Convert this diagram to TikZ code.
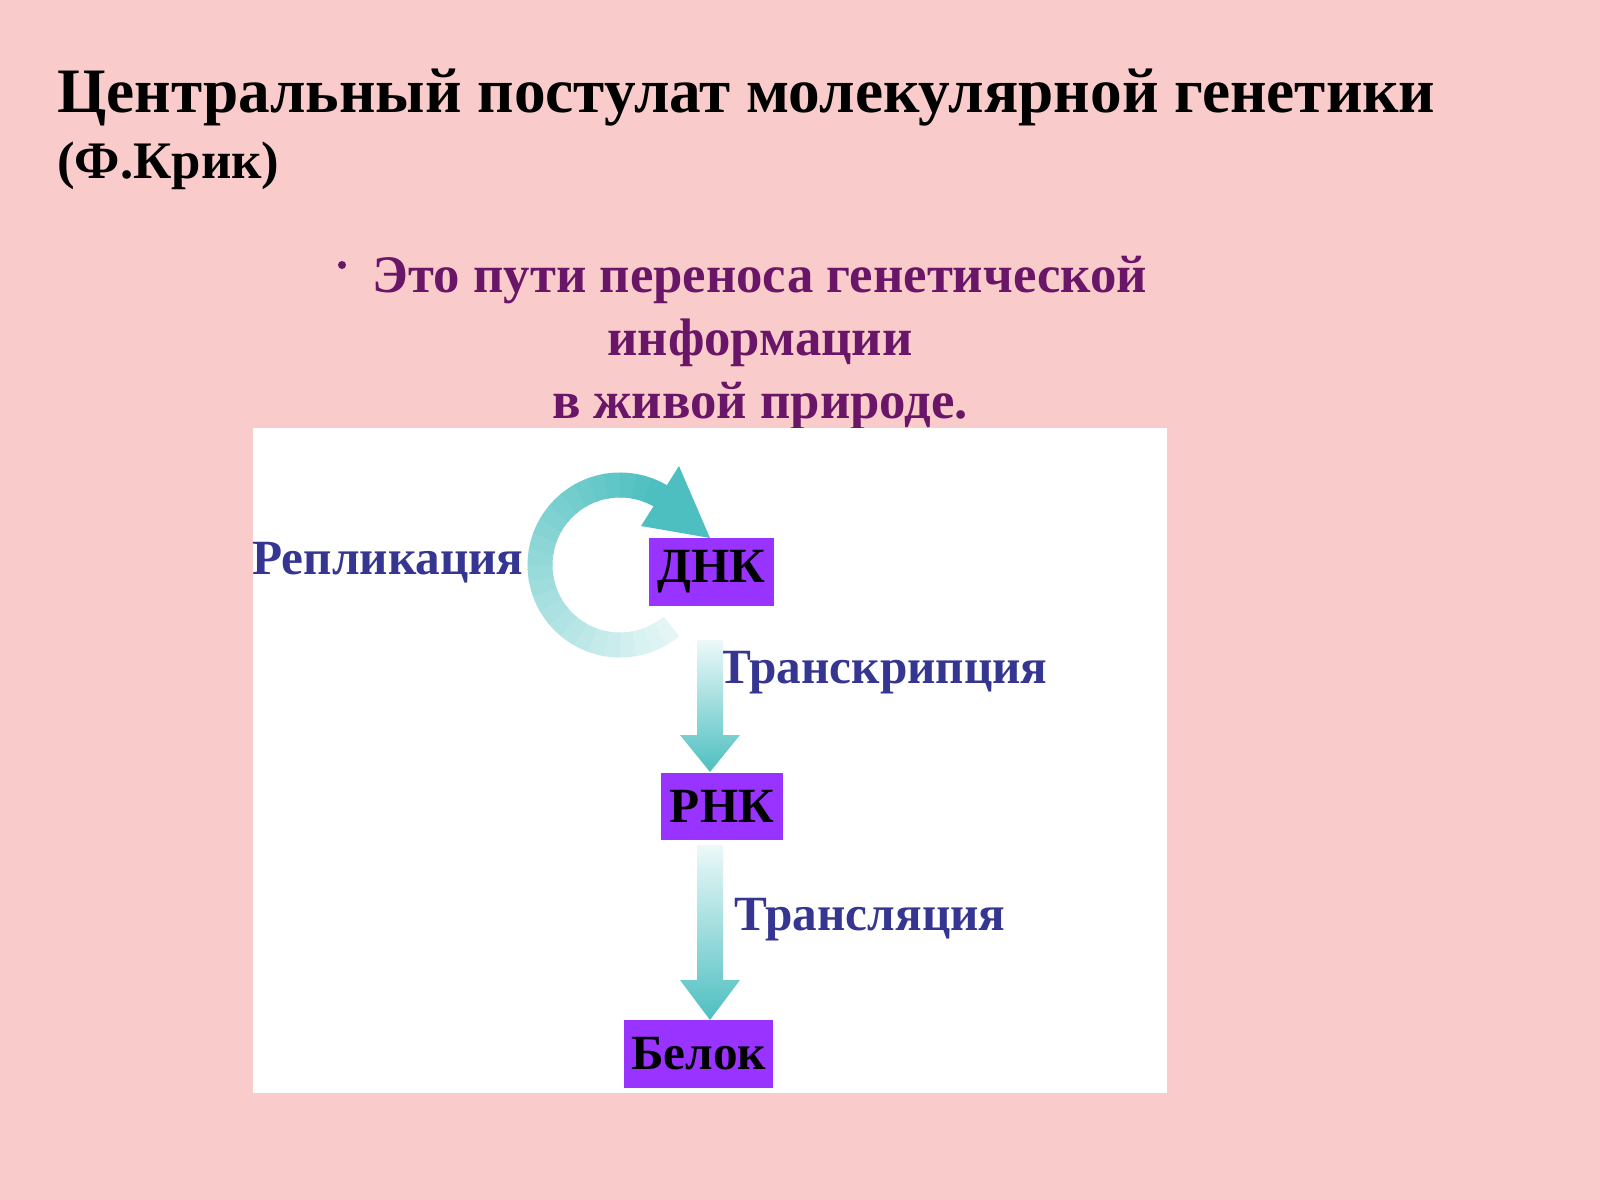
\documentclass[tikz,border=0pt]{standalone}
\usepackage{fontspec}
\setmainfont{Liberation Serif}
\usetikzlibrary{positioning}
\definecolor{bgpink}{HTML}{F9CCCB}
\definecolor{titlepurple}{HTML}{6A1668}
\definecolor{labelblue}{HTML}{353592}
\definecolor{boxviolet}{HTML}{9933FF}
\definecolor{arrowteal}{HTML}{4DBFC0}
\tikzset{
	molecule/.style={fill=boxviolet, font=\fontsize{14pt}{16pt}\selectfont\bfseries, text=black, inner sep=0pt, minimum height=0.67cm},
	process/.style={font=\fontsize{14pt}{16pt}\selectfont\bfseries, text=labelblue}
}
\begin{document}
\begin{tikzpicture}[x=0.01cm, y=-0.01cm]
	\fill[bgpink] (0,0) rectangle (1600,1200);
	\useasboundingbox (0,0) rectangle (1600,1200);
	% Titel
	\node[anchor=base west, font=\fontsize{18pt}{20pt}\selectfont\bfseries] (title) at (45,112) {Центральный постулат молекулярной генетики};
	\node[anchor=base west, font=\fontsize{15pt}{17pt}\selectfont\bfseries] (crick) at (45,178) {(Ф.Крик)};
	\node[anchor=base, font=\fontsize{15pt}{17pt}\selectfont\bfseries, text=titlepurple] (line1) at (760,292) {Это пути переноса генетической};
	\node[anchor=base, font=\fontsize{15pt}{17pt}\selectfont\bfseries, text=titlepurple] (line2) at (760,355) {информации};
	\node[anchor=base, font=\fontsize{15pt}{17pt}\selectfont\bfseries, text=titlepurple] (line3) at (760,418) {в живой природе.};
	\fill[titlepurple] (342,265) circle (4);
	% Schema
	\fill[white] (253,428) rectangle (1167,1093);
	\node[molecule, minimum width=1.25cm] (dnk) at (711.5,572) {ДНК};
	\node[molecule, minimum width=1.22cm] (rnk) at (722,806.5) {РНК};
	\node[molecule, minimum width=1.49cm] (belok) at (698.5,1054) {Белок};
	\node[process] (repl) at (388,563) {Репликация};
	\node[process] (transkr) at (883,673) {Транскрипция};
	\node[process] (transl) at (870,920) {Трансляция};
	% Pfeile
	\foreach \a in {50,60,...,290}
		{\pgfmathsetmacro{\mix}{15+(\a-50)/240*85}
		\draw[line width=0.25cm, arrowteal!\mix!white] ({620+80*cos(\a)},{565+80*sin(\a)}) arc [start angle=-\a, end angle=-\a-11, radius=0.8cm];}
	\fill[arrowteal] (679,466) -- (710,538) -- (641,526) -- cycle;
	\shade[top color=arrowteal!10, bottom color=arrowteal] (697,640) -- (723,640) -- (723,735) -- (740,735) -- (710,772) -- (680,735) -- (697,735) -- cycle;
	\shade[top color=arrowteal!10, bottom color=arrowteal] (697,845) -- (723,845) -- (723,980) -- (740,980) -- (710,1020) -- (680,980) -- (697,980) -- cycle;
\end{tikzpicture}
\end{document}
